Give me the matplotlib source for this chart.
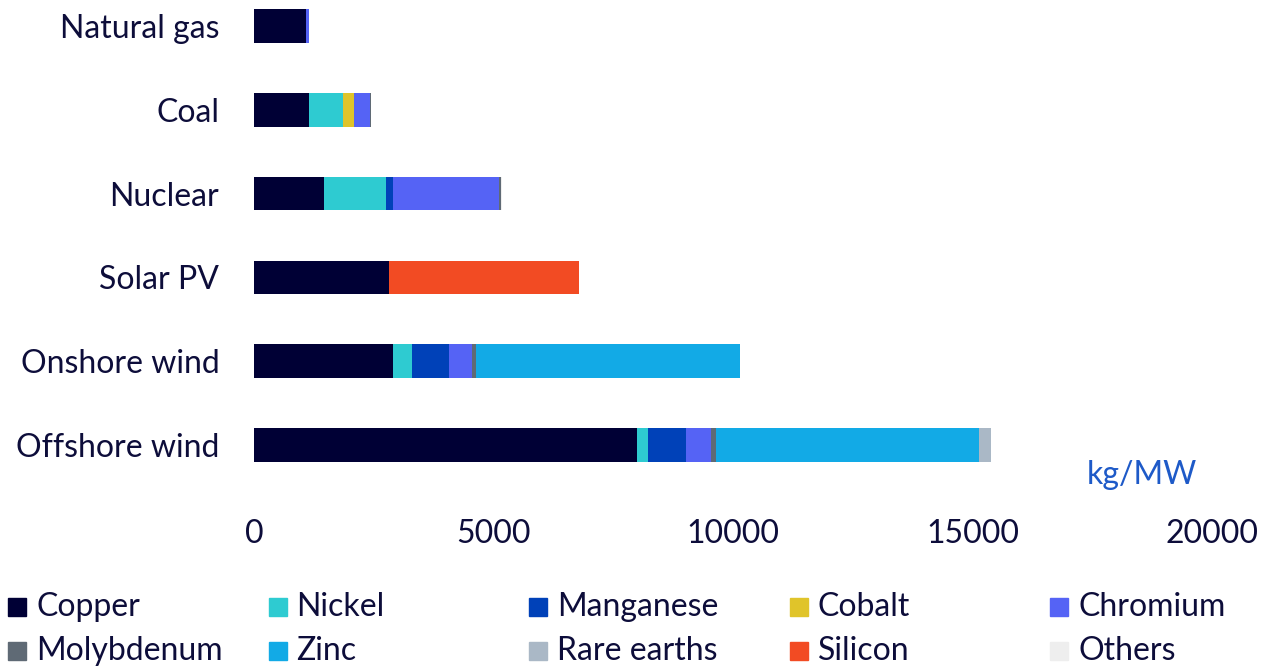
import numpy as np
import matplotlib.pyplot as plt
from matplotlib.patches import Rectangle

plt.rcParams['font.family'] = ['Lato', 'DejaVu Sans']

technologies = ['Offshore wind', 'Onshore wind', 'Solar PV', 'Nuclear', 'Coal', 'Natural gas']
materials = ['Copper', 'Nickel', 'Manganese', 'Cobalt', 'Chromium',
             'Molybdenum', 'Zinc', 'Rare earths', 'Silicon', 'Others']
colors = ['#000035', '#2ecbd1', '#0041b8', '#e0c42a', '#5563f5',
          '#5f6a75', '#12aae6', '#aab8c6', '#f24b23', '#eeeeee']

# kg/MW, rows follow technologies
copper = [8000, 2900, 2820, 1460, 1150, 1090]
nickel = [225, 390, 0, 1295, 710, 0]
manganese = [790, 780, 0, 140, 0, 0]
cobalt = [0, 0, 0, 0, 220, 0]
chromium = [525, 485, 0, 2225, 335, 65]
molybdenum = [100, 85, 0, 45, 35, 0]
zinc = [5500, 5500, 0, 0, 0, 0]
rare_earths = [240, 14, 0, 0, 0, 0]
silicon = [0, 0, 3970, 0, 0, 0]
others = [0, 0, 0, 20, 0, 0]

values = [copper, nickel, manganese, cobalt, chromium,
          molybdenum, zinc, rare_earths, silicon, others]

text_col = '#0d0d3a'
fs = 23
W, H = 1268, 668
fig = plt.figure(figsize=(W / 100, H / 100), dpi=100)
ax = fig.add_axes([254 / W, 1 - 490 / H, (1212 - 254) / W, (490 - 5) / H])

y = np.arange(len(technologies))
left = np.zeros(len(technologies))
for name, vals, c in zip(materials, values, colors):
    ax.barh(y, vals, left=left, height=0.4, color=c, label=name)
    left += np.array(vals)

ax.set_xlim(0, 20000)
ax.set_ylim(-0.537, 5.25)
ax.set_xticks([0, 5000, 10000, 15000, 20000])
ax.set_yticks(y)
ax.set_yticklabels(technologies)
ax.tick_params(length=0, labelsize=fs, colors=text_col)
ax.tick_params(axis='x', pad=21)
ax.tick_params(axis='y', pad=25)
for s in ax.spines.values():
    s.set_visible(False)

fig.text(1142 / W, 1 - 475 / H, 'kg/MW', color='#1e5ac8', fontsize=fs,
         ha='center', va='center')

# legend laid out as an even grid
for i, (name, c) in enumerate(zip(materials, colors)):
    col, row = i % 5, i // 5
    x0 = 8 + col * 260.5
    yc = 607 + row * 44
    fig.add_artist(Rectangle((x0 / W, 1 - (yc + 9) / H), 18 / W, 18 / H,
                             transform=fig.transFigure, color=c))
    fig.text((x0 + 28) / W, 1 - yc / H, name, color=text_col, fontsize=fs,
             ha='left', va='center')

fig.savefig('out.png', dpi=100)
